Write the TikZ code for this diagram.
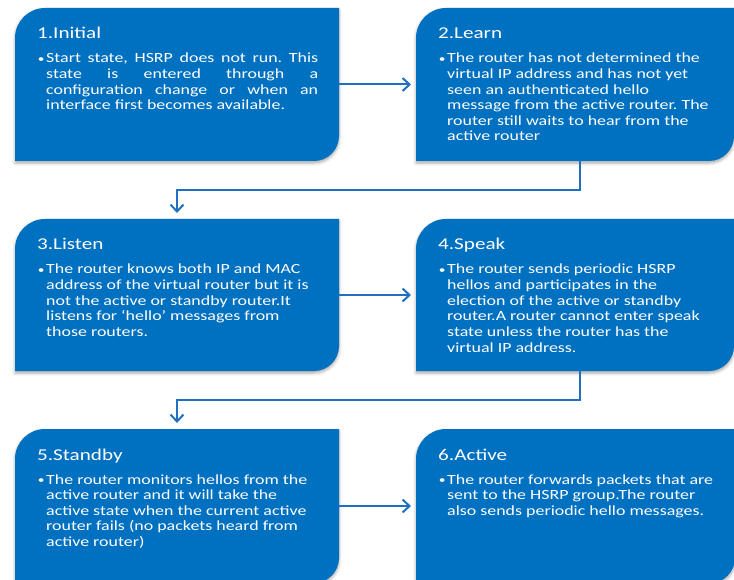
\documentclass[tikz,border=0pt]{standalone}
\usepackage{fontspec}
\usepackage{graphicx}
\setmainfont{Carlito}[FakeStretch=1.28]
\usetikzlibrary{arrows.meta,calc,shadows.blur}
\frenchspacing

\definecolor{boxblue}{HTML}{0070C0}
\definecolor{linkblue}{HTML}{1F70C1}

\pgfdeclarelayer{bg}
\pgfsetlayers{bg,main}

\tikzset{
  x=1pt, y=1pt,
  boxframe/.style={inner sep=0pt, outer sep=0pt, minimum width=#1},
  leaffill/.style={fill=boxblue,
    blur shadow={shadow xshift=0pt, shadow yshift=-2pt,
                 shadow blur radius=3pt, shadow opacity=35}},
  titletext/.style={inner sep=0pt, text=white,
    font=\fontsize{16.5}{19}\selectfont},
  bodytext/.style={inner sep=0pt, text=white,
    font=\fontsize{14}{15.6}\selectfont},
  link/.style={draw=linkblue, line width=2pt,
    -{Straight Barb[length=7pt, width=13pt, line width=2pt]}},
}

% state box: a rectangle with rounded top-left and bottom-right corners
\newcommand\leafbox[5]{%
  \node[boxframe=#4pt, minimum height=#5pt, anchor=north west] (#1) at (#2,-#3) {};
  \begin{pgfonlayer}{bg}
    \path[leaffill] (#1.south west)
      -- ([yshift=-30pt]#1.north west) arc[start angle=180, end angle=90, radius=30pt]
      -- (#1.north east)
      -- ([yshift=25pt]#1.south east) arc[start angle=0, end angle=-90, radius=25pt]
      -- cycle;
  \end{pgfonlayer}
}
\newcommand\bul{\leavevmode\llap{\raisebox{0.6pt}{\scalebox{0.75}{•}}\hspace{1.6pt}}}
% title and bulleted body of a box
\newcommand\boxtext[4]{%
  \node[titletext, anchor=base west] (#1-title) at ([shift={(22,-31)}]#1.north west) {#2};
  \node[bodytext, anchor=base west] (#1-body) at ([shift={(31,-55)}]#1.north west)
    {\parbox[t]{#3}{#4}};
}

\begin{document}
\begin{tikzpicture}
\useasboundingbox (0,0) rectangle (734,-580);

\leafbox{b1}{15}{8}{324}{153}
\leafbox{b2}{416}{8}{318}{153}
\leafbox{b3}{15}{219}{324}{152}
\leafbox{b4}{416}{219}{318}{152}
\leafbox{b5}{15}{429}{324}{154}
\leafbox{b6}{416}{429}{319}{154}

\boxtext{b1}{1.Initial}{272pt}{\bul Start state, HSRP does not run. This\linebreak
  state is entered through a\linebreak configuration change or when an\linebreak
  interface first becomes available.}
\boxtext{b2}{2.Learn}{290pt}{\raggedright\bul The router has not determined the\\
  virtual IP address and has not yet\\ seen an authenticated hello\\
  message from the active router. The\\ router still waits to hear from the\\
  active router}
\boxtext{b3}{3.Listen}{290pt}{\raggedright\bul The router knows both IP and MAC\\
  address of the virtual router but it is\\ not the active or standby router.It\\
  listens for ‘hello’ messages from\\ those routers.}
\boxtext{b4}{4.Speak}{290pt}{\raggedright\bul The router sends periodic HSRP\\
  hellos and participates in the\\ election of the active or standby\\
  router.A router cannot enter speak\\ state unless the router has the\\
  virtual IP address.}
\boxtext{b5}{5.Standby}{290pt}{\raggedright\bul The router monitors hellos from the\\
  active router and it will take the\\ active state when the current active\\
  router fails (no packets heard from\\ active router)}
\boxtext{b6}{6.Active}{290pt}{\raggedright\bul The router forwards packets that are\\
  sent to the HSRP group.The router\\ also sends periodic hello messages.}

% transitions between the states
\draw[link, shorten >=5pt] (b1.east) -- (b2.west);
\draw[link, shorten >=5pt] (b3.east) -- (b4.west);
\draw[link, shorten >=5pt] (b5.east) -- (b6.west);
\draw[link, shorten >=6pt] ([xshift=4.5pt]b2.south) -- ++(0,-29) -| (b3.north);
\draw[link, shorten >=6pt] ([xshift=4.5pt]b4.south) -- ++(0,-29) -| (b5.north);
\end{tikzpicture}
\end{document}
